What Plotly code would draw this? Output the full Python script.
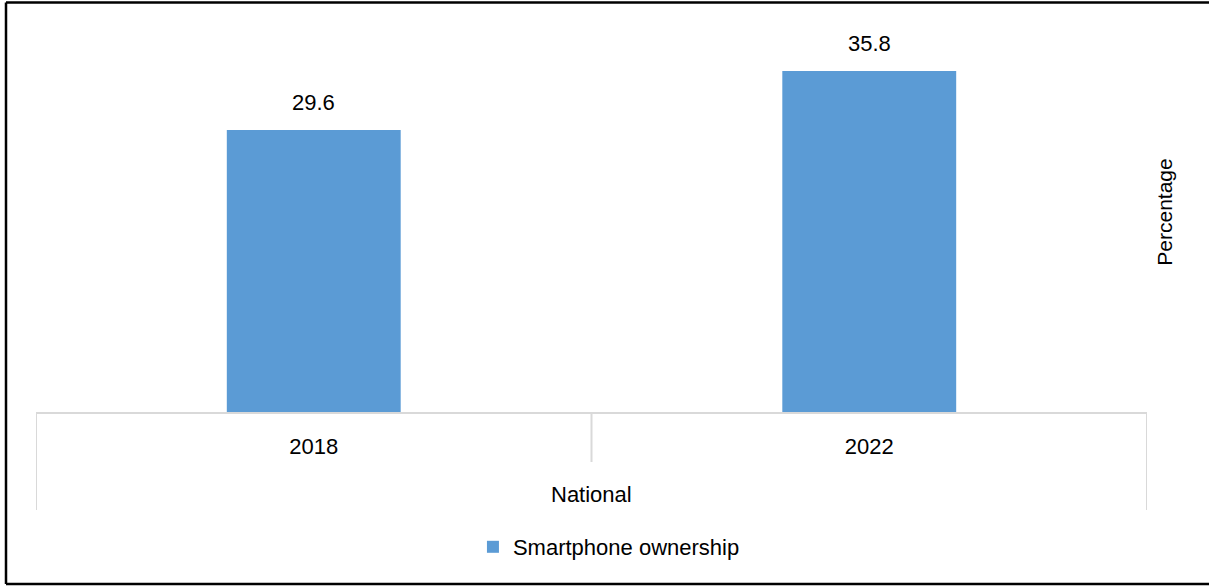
import plotly.graph_objects as go

# Data
years = ["2018", "2022"]
ownership = [29.6, 35.8]
group_label = "National"
series_name = "Smartphone ownership"
y_title = "Percentage"

# Canvas geometry
W, H = 1209, 586
ML, MR, MT, MB = 36, 62, 12, 174
PW, PH = W - ML - MR, H - MT - MB
BAR_COLOR = "#5B9BD5"
GRID_GRAY = "#D9D9D9"
FONT = "Liberation Sans, Arial, sans-serif"


def px_x(px):
    return (px - ML) / PW


def px_y(py):
    return (H - MB - py) / PH


fig = go.Figure()
fig.add_trace(go.Bar(
    x=years,
    y=ownership,
    name=series_name,
    marker=dict(color=BAR_COLOR, line=dict(width=0)),
    showlegend=True,
))

# Value labels above each bar (category index used as the x position)
annotations = [
    dict(x=i, y=v, xref="x", yref="y", text=f"{v:.1f}", showarrow=False,
         yanchor="bottom", yshift=13, font=dict(size=22, color="black", family=FONT))
    for i, v in enumerate(ownership)
]
# Group label beneath the category labels
annotations.append(dict(x=0.5, y=px_y(494), xref="paper", yref="paper", text=group_label,
                        showarrow=False, xanchor="center", yanchor="middle",
                        font=dict(size=22, color="black", family=FONT)))

shapes = []
# Category dividers below the axis
n = len(years)
for i in range(n + 1):
    edge = i - 0.5
    outer = i in (0, n)
    shapes.append(dict(type="line", xref="x", yref="paper", x0=edge, x1=edge,
                       y0=0, y1=px_y(510) if outer else px_y(462),
                       line=dict(color=GRID_GRAY, width=2)))
# Outer frame
frame = dict(color="black", width=2.5)
shapes.append(dict(type="line", xref="paper", yref="paper", x0=px_x(6), x1=px_x(6),
                   y0=px_y(2.5), y1=px_y(584), line=frame))
shapes.append(dict(type="line", xref="paper", yref="paper", x0=px_x(6), x1=px_x(W),
                   y0=px_y(2.5), y1=px_y(2.5), line=frame))
shapes.append(dict(type="line", xref="paper", yref="paper", x0=px_x(6), x1=px_x(W),
                   y0=px_y(584), y1=px_y(584), line=frame))

fig.update_layout(
    width=W, height=H,
    margin=dict(l=ML, r=MR, t=MT, b=MB, autoexpand=False),
    paper_bgcolor="white", plot_bgcolor="white",
    font=dict(family=FONT, size=22, color="black"),
    bargap=0.687,
    xaxis=dict(
        type="category", range=[-0.5, n - 0.5],
        showline=True, linecolor=GRID_GRAY, linewidth=2,
        showgrid=False, zeroline=False, ticks="",
        ticklabelstandoff=14,
        tickfont=dict(size=22, color="black", family=FONT),
        fixedrange=True,
    ),
    yaxis=dict(
        range=[0, 42], side="right",
        showgrid=False, zeroline=False, showline=False,
        showticklabels=False, ticks="",
        title=dict(text=y_title, standoff=10, font=dict(size=21, color="black", family=FONT)),
        fixedrange=True,
    ),
    legend=dict(
        orientation="h", x=0.5157, xanchor="center", y=px_y(547), yanchor="middle",
        font=dict(size=22, color="black", family=FONT),
        bgcolor="rgba(0,0,0,0)",
    ),
    annotations=annotations,
    shapes=shapes,
)

fig.write_html("out.html")
